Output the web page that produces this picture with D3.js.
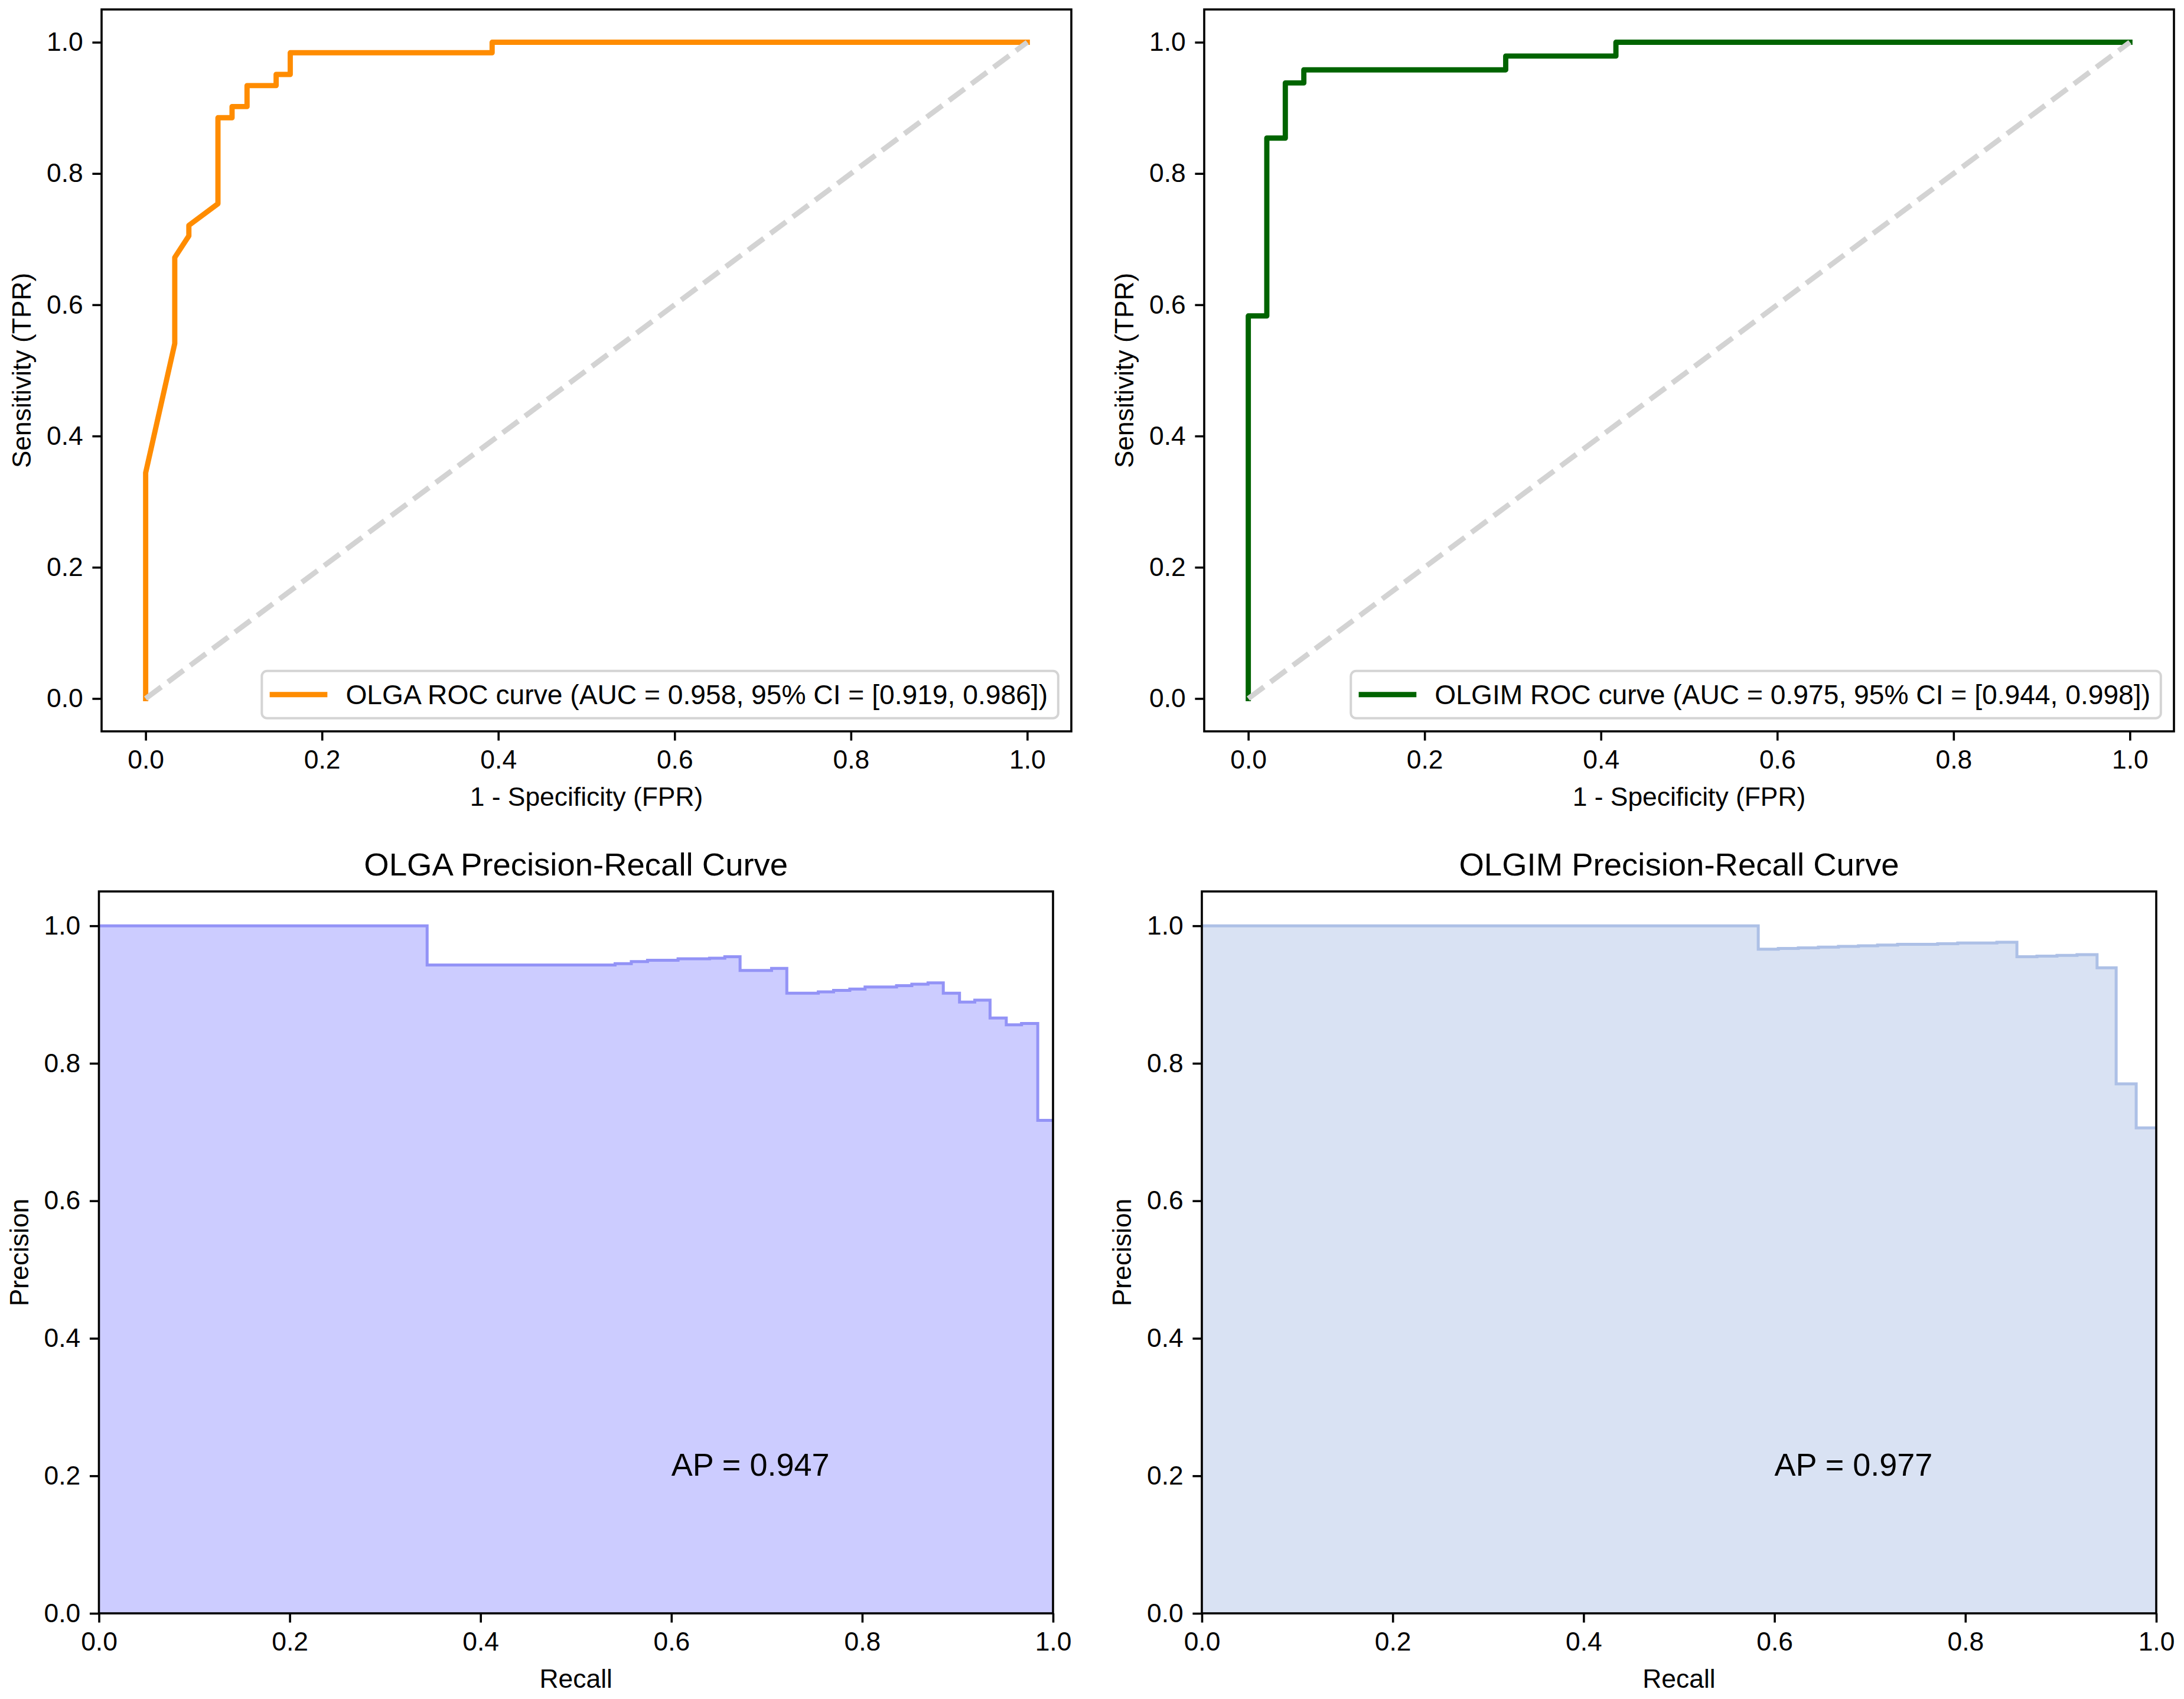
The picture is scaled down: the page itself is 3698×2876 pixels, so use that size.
<!DOCTYPE html>
<html>
<head>
<meta charset="utf-8">
<script src="https://cdn.jsdelivr.net/npm/d3@7"></script>
<style>
  html, body { margin: 0; padding: 0; background: #fff; }
  svg { display: block; }
</style>
</head>
<body>
<div id="chart"></div>
<script>
// ---- data ----
const tickVals = [0, 0.2, 0.4, 0.6, 0.8, 1.0];

const olgaFpr = [0, 0, 0.033, 0.033, 0.049, 0.049, 0.082, 0.082, 0.098, 0.098, 0.115, 0.115, 0.148, 0.148, 0.164, 0.164, 0.393, 0.393, 1.0];
const olgaTpr = [0, 0.344, 0.541, 0.672, 0.705, 0.721, 0.754, 0.885, 0.885, 0.902, 0.902, 0.934, 0.934, 0.951, 0.951, 0.984, 0.984, 1.0, 1.0];

const olgimFpr = [0, 0, 0.021, 0.021, 0.042, 0.042, 0.063, 0.063, 0.292, 0.292, 0.417, 0.417, 1.0];
const olgimTpr = [0, 0.583, 0.583, 0.854, 0.854, 0.938, 0.938, 0.958, 0.958, 0.979, 0.979, 1.0, 1.0];

// recall = start of each step, precision = value held until next step
const olgaRecall = [0, 0.344, 0.541, 0.558, 0.575, 0.607, 0.640, 0.656, 0.672, 0.705, 0.721, 0.754, 0.770, 0.787, 0.803, 0.836, 0.852, 0.869, 0.885, 0.902, 0.918, 0.934, 0.951, 0.967, 0.984, 1.0];
const olgaPrecision = [1.0, 0.943, 0.945, 0.948, 0.950, 0.952, 0.953, 0.955, 0.935, 0.938, 0.902, 0.904, 0.906, 0.908, 0.911, 0.913, 0.915, 0.917, 0.902, 0.889, 0.892, 0.866, 0.856, 0.858, 0.717, 0.717];

const olgimRecall = [0, 0.583, 0.604, 0.625, 0.646, 0.667, 0.688, 0.708, 0.729, 0.750, 0.771, 0.792, 0.813, 0.833, 0.854, 0.875, 0.896, 0.917, 0.938, 0.958, 0.979, 1.0];
const olgimPrecision = [1.0, 0.966, 0.967, 0.968, 0.969, 0.970, 0.971, 0.972, 0.973, 0.973, 0.974, 0.975, 0.975, 0.976, 0.955, 0.956, 0.957, 0.958, 0.939, 0.770, 0.706, 0.706];

const rocLabels = ["OLGA ROC curve (AUC = 0.958, 95% CI = [0.919, 0.986])",
                   "OLGIM ROC curve (AUC = 0.975, 95% CI = [0.944, 0.998])"];
const prTitles = ["OLGA Precision-Recall Curve", "OLGIM Precision-Recall Curve"];
const apLabels = ["AP = 0.947", "AP = 0.977"];

// ---- layout ----
const W = 3698, H = 2876;
const FS = 44.4;       // 10pt
const FS_LEG = 46.2;
const FS_BIG = 54.5;   // 12pt
const TICK = 15.6;
const SPINE = 3.6;
const FONT = "'Liberation Sans', Arial, Helvetica, sans-serif";

const panels = [
  {left: 172,   right: 1814, top: 16,   bottom: 1238},
  {left: 2039,  right: 3681, top: 16,   bottom: 1238},
  {left: 167.5, right: 1783, top: 1509, bottom: 2731},
  {left: 2035,  right: 3651, top: 1509, bottom: 2731}
];

const svg = d3.select("#chart").append("svg")
  .attr("width", W).attr("height", H)
  .style("font-family", FONT);

svg.append("rect").attr("width", W).attr("height", H).attr("fill", "#fff");

function makePanel(i, xDom, yDom, xLabel, yLabel) {
  const b = panels[i];
  const x = d3.scaleLinear().domain(xDom).range([b.left, b.right]);
  const y = d3.scaleLinear().domain(yDom).range([b.bottom, b.top]);
  const g = svg.append("g");

  g.append("clipPath").attr("id", "clip" + i)
    .append("rect")
    .attr("x", b.left).attr("y", b.top)
    .attr("width", b.right - b.left).attr("height", b.bottom - b.top);

  const plot = g.append("g").attr("clip-path", `url(#clip${i})`);
  const over = g.append("g");

  function finish() {
    over.append("rect")
      .attr("x", b.left).attr("y", b.top)
      .attr("width", b.right - b.left).attr("height", b.bottom - b.top)
      .attr("fill", "none").attr("stroke", "#000").attr("stroke-width", SPINE);

    const xa = over.append("g").attr("transform", `translate(0,${b.bottom})`)
      .call(d3.axisBottom(x).tickValues(tickVals).tickFormat(d3.format(".1f"))
        .tickSize(TICK).tickPadding(TICK).tickSizeOuter(0));
    const ya = over.append("g").attr("transform", `translate(${b.left},0)`)
      .call(d3.axisLeft(y).tickValues(tickVals).tickFormat(d3.format(".1f"))
        .tickSize(TICK).tickPadding(TICK).tickSizeOuter(0));
    [xa, ya].forEach(a => {
      a.select(".domain").remove();
      a.attr("font-family", FONT).attr("font-size", FS);
      a.selectAll("line").attr("stroke", "#000").attr("stroke-width", SPINE);
      a.selectAll("text").attr("fill", "#000");
    });

    over.append("text")
      .attr("x", (b.left + b.right) / 2).attr("y", b.bottom + 126)
      .attr("text-anchor", "middle").attr("font-size", FS)
      .text(xLabel);
    over.append("text")
      .attr("transform", `translate(${b.left - 120},${(b.top + b.bottom) / 2}) rotate(-90)`)
      .attr("text-anchor", "middle").attr("font-size", FS)
      .text(yLabel);
  }
  return {x, y, plot, over, finish, b};
}

function rocPanel(i, fpr, tpr, color, label) {
  const p = makePanel(i, [-0.05, 1.05], [-0.05, 1.05], "1 - Specificity (FPR)", "Sensitivity (TPR)");
  const pts = fpr.map((f, k) => [f, tpr[k]]);
  const line = d3.line().x(d => p.x(d[0])).y(d => p.y(d[1]));

  p.plot.append("path").datum(pts)
    .attr("d", line)
    .attr("fill", "none").attr("stroke", color)
    .attr("stroke-width", 8.9)
    .attr("stroke-linejoin", "round").attr("stroke-linecap", "square");

  p.plot.append("path").datum([[0, 0], [1, 1]])
    .attr("d", line)
    .attr("fill", "none").attr("stroke", "#d3d3d3")
    .attr("stroke-width", 8.9)
    .attr("stroke-dasharray", "32.9,14.2");

  p.finish();

  // legend, lower right
  const lg = p.over.append("g");
  const txt = lg.append("text").attr("font-size", FS_LEG).text(label);
  const tw = txt.node().getComputedTextLength();
  const bw = 0.4 * FS + 2 * FS + 0.8 * FS + tw + 0.4 * FS;
  const bh = 80;
  const bx = p.b.right - 0.5 * FS - bw;
  const by = p.b.bottom - 0.5 * FS - bh;
  const cy = by + bh / 2;
  lg.insert("rect", "text")
    .attr("x", bx).attr("y", by).attr("width", bw).attr("height", bh)
    .attr("rx", 0.2 * FS).attr("ry", 0.2 * FS)
    .attr("fill", "#fff").attr("fill-opacity", 0.8)
    .attr("stroke", "#d4d4d4").attr("stroke-width", 4);
  lg.insert("line", "text")
    .attr("x1", bx + 0.4 * FS).attr("x2", bx + 2.4 * FS)
    .attr("y1", cy).attr("y2", cy)
    .attr("stroke", color).attr("stroke-width", 8.9).attr("stroke-linecap", "square");
  txt.attr("x", bx + 3.2 * FS).attr("y", cy + 16);
}

function prPanel(i, recall, precision, fill, stroke, title, ap) {
  const p = makePanel(i, [0, 1], [0, 1.05], "Recall", "Precision");
  const pts = recall.map((r, k) => [r, precision[k]]);

  p.plot.append("path").datum(pts)
    .attr("d", d3.area().curve(d3.curveStepAfter)
      .x(d => p.x(d[0])).y0(p.y(0)).y1(d => p.y(d[1])))
    .attr("fill", fill).attr("stroke", stroke).attr("stroke-width", 2);

  p.plot.append("path").datum(pts)
    .attr("d", d3.line().curve(d3.curveStepAfter).x(d => p.x(d[0])).y(d => p.y(d[1])))
    .attr("fill", "none").attr("stroke", stroke).attr("stroke-width", 5);

  p.plot.append("text")
    .attr("x", p.x(0.6)).attr("y", p.y(0.2))
    .attr("font-size", 54).attr("fill", "#000")
    .text(ap);

  p.finish();

  p.over.append("text")
    .attr("x", (p.b.left + p.b.right) / 2).attr("y", p.b.top - 26.7)
    .attr("text-anchor", "middle").attr("font-size", FS_BIG)
    .text(title);
}

rocPanel(0, olgaFpr, olgaTpr, "#ff8c00", rocLabels[0]);
rocPanel(1, olgimFpr, olgimTpr, "#006400", rocLabels[1]);
prPanel(2, olgaRecall, olgaPrecision, "#ccccff", "#9393f6", prTitles[0], apLabels[0]);
prPanel(3, olgimRecall, olgimPrecision, "#d9e2f3", "#adc0e6", prTitles[1], apLabels[1]);
</script>
</body>
</html>
